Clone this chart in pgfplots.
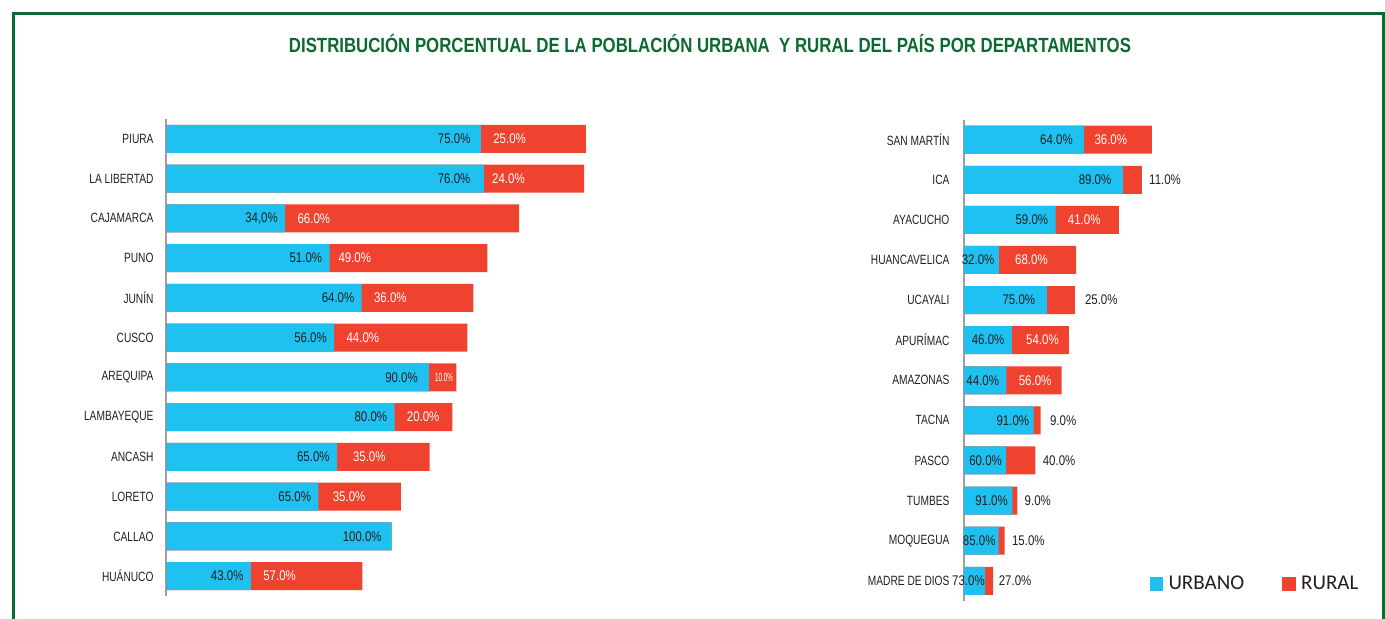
\documentclass[border=0pt]{standalone}
\usepackage{fontspec}
\usepackage{graphicx}
\usepackage{pgfplots}
\usepackage{pgfplotstable}
\pgfplotsset{compat=1.18}
\setmainfont{Liberation Sans}
\newfontfamily\catfont{Liberation Sans}[FakeStretch=0.76]
\newfontfamily\valfont{Liberation Sans}[FakeStretch=0.82]
\newfontfamily\titlefont{Liberation Sans}[FakeStretch=0.82]
\newfontfamily\legfont{Carlito}
\newcommand\pc{\%}
\definecolor{urb}{HTML}{1EC1F0}
\definecolor{rur}{HTML}{EF422F}
\definecolor{tgreen}{RGB}{12,106,48}
\definecolor{valcol}{HTML}{231F20}

\pgfplotsset{
 deptstyle/.style={
   xbar, bar shift=0pt, y dir=reverse, clip=false,
   x=0.5pt, bar width=14pt, xmin=0, ymin=-0.5, ymax=11.5,
   axis x line=none, axis y line=left,
   y axis line style={-, draw=gray!75, line width=1pt},
   ytick={0,...,11}, major tick length=0pt,
   yticklabel style={font=\catfont\fontsize{6.7}{8}\selectfont, text=valcol, inner sep=0pt},
   point meta=explicit symbolic,
   every node near coord/.append style={font=\valfont\fontsize{7}{8}\selectfont, inner sep=0pt},
 },
 blueplot/.style={fill=urb, draw=none, nodes near coords, nodes near coords align={anchor=east},
   every node near coord/.append style={text=valcol, xshift=-3.5pt}},
 midplot/.style={fill=none, draw=none, nodes near coords, nodes near coords align={anchor=west},
   every node near coord/.append style={text=white, xshift=6pt}},
 redplot/.style={fill=rur, draw=none, nodes near coords, nodes near coords align={anchor=west},
   every node near coord/.append style={text=valcol, xshift=3.5pt}},
}

% u = urban bar length, r = rural bar length (px), labels: lu urban, li rural inside, lo rural outside
\pgfplotstableread{
i u r lu li lo
0 314.6 105.0 75.0\pc\kern1.5pt 25.0\pc{} {}
1 317.5 100.4 76.0\pc\kern3pt \kern-2pt24.0\pc{} {}
2 118.9 234.0 34,0\pc{} 66.0\pc{} {}
3 163.2 157.9 51.0\pc{} \kern-1.7pt49.0\pc{} {}
4 195.4 111.7 64.0\pc{} 36.0\pc{} {}
5 167.9 133.2 56.0\pc{} 44.0\pc{} {}
6 262.5 27.5 90.0\pc\kern1.8pt {\kern-3pt\scalebox{0.55}[0.85]{10.0\pc}} {}
7 228.2 57.9 80.0\pc{} 20.0\pc{} {}
8 170.7 92.5 65.0\pc{} \kern1.8pt35.0\pc{} {}
9 152.1 82.5 65.0\pc{} \kern1pt35.0\pc{} {}
10 225.4 0 100.0\pc\kern1.3pt {} {}
11 84.6 111.5 43.0\pc{} 57.0\pc{} {}
}\lefttab

\pgfplotstableread{
i u r lu li lo
0 120.3 67.7 64.0\pc\kern2pt \kern-1pt36.0\pc{} {}
1 159.3 18.7 89.0\pc\kern2.2pt {} 11.0\pc{}
2 91.7 63.3 59.0\pc{} 41.0\pc{} {}
3 35.0 77.3 32.0\pc\kern-1.5pt \kern2pt68.0\pc{} {}
4 83.3 27.7 75.0\pc\kern2.3pt {} \kern1.4pt25.0\pc{}
5 48.0 57.0 46.0\pc{} \kern1pt54.0\pc{} {}
6 42.6 55.2 44.0\pc{} 56.0\pc{} {}
7 69.9 7.0 91.0\pc\kern-1.4pt {} \kern1pt9.0\pc{}
8 42.3 29.3 60.0\pc\kern-1.6pt {} 40.0\pc{}
9 48.6 4.9 91.0\pc\kern-1.4pt {} 9.0\pc{}
10 34.9 6.0 85.0\pc\kern-2.1pt {} 15.0\pc{}
11 21.3 8.1 73.0\pc\kern-3.5pt {} \kern-0.9pt27.0\pc{}
}\righttab

\begin{document}
\begin{tikzpicture}
\path[use as bounding box] (0,0) rectangle (692.5pt,309pt);

% ---------------- left chart ----------------
\begin{axis}[deptstyle, at={(83.15pt,249.5pt)}, anchor=north west,
  y=19.875pt, xmax=430,
  yticklabel style={xshift=-6.2pt},
  yticklabels={PIURA,LA LIBERTAD,CAJAMARCA,PUNO,JUNÍN,CUSCO,AREQUIPA,LAMBAYEQUE,ANCASH,LORETO,CALLAO,HUÁNUCO}]
\addplot[redplot] table[x expr=\thisrow{u}+\thisrow{r}, y=i, meta=lo] {\lefttab};
\addplot[blueplot] table[x=u, y=i, meta=lu] {\lefttab};
\addplot[midplot] table[x=u, y=i, meta=li] {\lefttab};
\end{axis}

% ---------------- right chart ----------------
\begin{axis}[deptstyle, at={(481.9pt,249.2pt)}, anchor=north west,
  y=20.05pt, xmax=200,
  yticklabel style={xshift=-7pt},
  yticklabels={SAN MARTÍN,ICA,AYACUCHO,HUANCAVELICA,UCAYALI,APURÍMAC,AMAZONAS,TACNA,PASCO,TUMBES,MOQUEGUA,MADRE DE DIOS},
  legend columns=2,
  legend style={at={(0.929,0.035)}, anchor=west, draw=none, fill=none,
    inner sep=0pt, outer sep=0pt, font=\legfont\fontsize{10.5}{12}\selectfont,
    text=valcol, column sep=2.75pt,
    /tikz/every even column/.append style={column sep=19pt},
    nodes={inner sep=0pt}}]
\addlegendimage{legend image code/.code={\fill[urb] (0pt,-3.15pt) rectangle (6.3pt,3.15pt);}}
\addlegendentry{URBANO}
\addlegendimage{legend image code/.code={\fill[rur] (0pt,-3.15pt) rectangle (6.3pt,3.15pt);}}
\addlegendentry{RURAL}
\addplot[redplot] table[x expr=\thisrow{u}+\thisrow{r}, y=i, meta=lo] {\righttab};
\addplot[blueplot] table[x=u, y=i, meta=lu] {\righttab};
\addplot[midplot] table[x=u, y=i, meta=li] {\righttab};
\end{axis}

% ---------------- frame and title ----------------
\begin{scope}
\clip (0,0) rectangle (692.5pt,309pt);
\draw[tgreen, line width=1.5pt] (6.75pt,-5pt) -- (6.75pt,302.5pt) -- (691.5pt,302.5pt) -- (691.5pt,-5pt);
\end{scope}
\node[anchor=base, text=tgreen, font=\titlefont\bfseries\fontsize{10.25}{12}\selectfont]
  at (355pt,282.65pt) {DISTRIBUCIÓN PORCENTUAL DE LA POBLACIÓN URBANA\ \ Y RURAL DEL PAÍS POR DEPARTAMENTOS};
\end{tikzpicture}
\end{document}
